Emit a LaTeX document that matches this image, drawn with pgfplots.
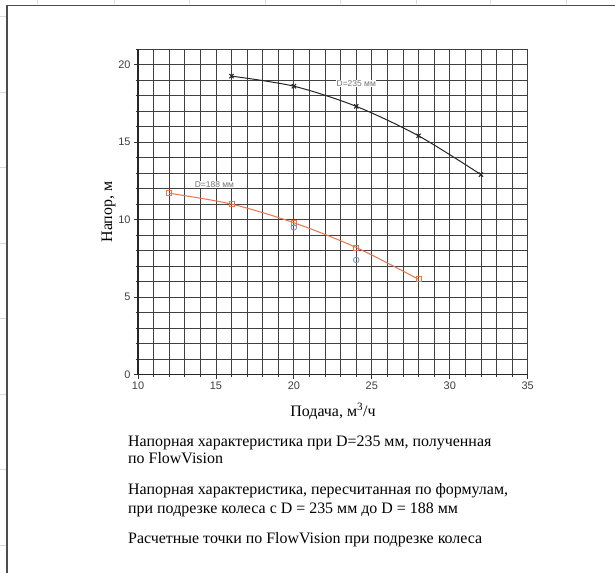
\documentclass[border=0pt]{standalone}
\usepackage{pgfplots}
\pgfplotsset{compat=1.18}
\usepackage{fontspec}
\setmainfont{Liberation Serif}
\newfontfamily\sans{Liberation Sans}

\definecolor{curvered}{HTML}{E8734F}
\definecolor{pointblue}{HTML}{6F8FBF}

\begin{document}
\begin{tikzpicture}[x=1bp,y=1bp]
\useasboundingbox (0,0) rectangle (615,573);
\fill[white] (0,0) rectangle (615,573);
% outer frame and the light cell marks round it
\draw[black!70, line width=1.5bp] (7,0) -- (7,567.5) -- (615,567.5);
\foreach \x in {37,114,189,265,340,416,490,566}
  \draw[black!15, line width=0.8bp] (\x,568.5) -- (\x,573);
\foreach \y in {16.5,92,167,243,318,394,469,545}
  \draw[black!15, line width=0.8bp] (0,573-\y) -- (6,573-\y);

\begin{axis}[
    at={(138bp,198.3bp)}, anchor=south west,
    scale only axis, width=389.7bp, height=325.7bp,
    xmin=10, xmax=35, ymin=0, ymax=21,
    xtick={10,15,...,35}, ytick={0,5,...,20},
    minor xtick={10,...,35}, minor ytick={0,...,21},
    grid=both,
    major grid style={black!75, line width=0.8bp},
    minor grid style={black!75, line width=0.8bp},
    axis x line*=bottom, axis y line*=left,
    axis line style={black!85, line width=1.4bp, -},
    tick align=outside, major tick length=4bp, minor tick length=2.5bp,
    tick style={black!80, line width=0.8bp},
    ticklabel style={font=\sans\fontsize{11}{12}\selectfont, text=black!75},
    /pgf/number format/assume math mode=true,
    clip=false,
]
    % D = 235 mm, FlowVision
    \addplot[smooth, color=black!85, line width=1bp, mark=x, mark size=3bp]
        coordinates {(16,19.25) (20,18.6) (24,17.3) (28,15.4) (32,12.9)};
    % recalculated for D = 188 mm
    \addplot[smooth, color=curvered, line width=1bp, mark=square, mark size=2.5bp]
        coordinates {(12,11.7) (16,11.0) (20,9.8) (24,8.2) (28,6.15)};
    % FlowVision points, trimmed impeller
    \addplot[only marks, color=pointblue, mark=o, mark size=2.8bp, line width=0.8bp]
        coordinates {(20,9.5) (24,7.4)};

    \node[font=\sans\fontsize{8.5}{9}\selectfont, text=black!55, fill=white, inner sep=0.5bp]
        at (axis cs:24.0,18.75) {D=235 мм};
    \node[font=\sans\fontsize{8.5}{9}\selectfont, text=black!55, fill=white, inner sep=0.5bp]
        at (axis cs:14.9,12.25) {D=188 мм};
\end{axis}

\node[anchor=base, font=\fontsize{16}{18}\selectfont] at (333,156) {Подача, м\textsuperscript{3}/ч};
\node[anchor=base, rotate=90, font=\fontsize{16}{18}\selectfont] at (112,361) {Напор, м};

\begin{scope}[every node/.style={anchor=base west, inner sep=0pt, font=\fontsize{16}{18}\selectfont}]
\node at (128,126.3) {Напорная характеристика при D=235 мм, полученная};
\node at (128,109.7) {по FlowVision};
\node at (128,78) {Напорная характеристика, пересчитанная по формулам,};
\node at (128,59.7) {при подрезке колеса с D = 235 мм до D = 188 мм};
\node at (128,29.7) {Расчетные точки по FlowVision при подрезке колеса};
\end{scope}
\end{tikzpicture}
\end{document}
